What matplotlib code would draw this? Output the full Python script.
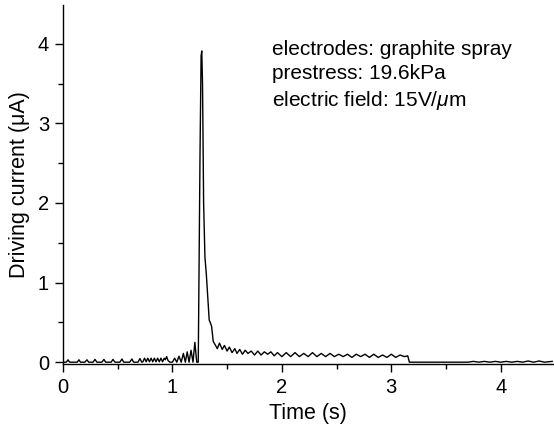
import matplotlib
matplotlib.use('Agg')
import matplotlib.pyplot as plt
from matplotlib.ticker import MultipleLocator

plt.rcParams['font.family'] = ['Liberation Sans', 'DejaVu Sans']
plt.rcParams['mathtext.fontset'] = 'custom'
plt.rcParams['mathtext.rm'] = 'Liberation Sans'
plt.rcParams['mathtext.it'] = 'Liberation Sans:italic'

# driving current trace (time in s, current in uA)
t_pre = [0.00, 0.03, 0.046, 0.06, 0.13, 0.146, 0.16, 0.20, 0.219, 0.235,
         0.275, 0.292, 0.31, 0.355, 0.374, 0.39, 0.44, 0.457, 0.475,
         0.52, 0.539, 0.555, 0.61, 0.630, 0.645, 0.685, 0.703, 0.72,
         0.73, 0.745, 0.76, 0.775, 0.79, 0.805, 0.82, 0.835, 0.85, 0.865,
         0.88, 0.895, 0.91, 0.925, 0.935, 0.947, 0.96, 0.977,
         1.00, 1.02, 1.04, 1.06, 1.08, 1.10, 1.118, 1.135, 1.152, 1.17,
         1.188, 1.205, 1.222]
v_pre = [0.00, 0.00, 0.03, 0.00, 0.00, 0.03, 0.00, 0.00, 0.03, 0.00,
         0.00, 0.035, 0.00, 0.00, 0.035, 0.00, 0.00, 0.035, 0.00,
         0.00, 0.04, 0.00, 0.00, 0.04, 0.00, 0.00, 0.045, 0.00,
         0.005, 0.05, 0.005, 0.05, 0.005, 0.05, 0.005, 0.05, 0.005, 0.05,
         0.005, 0.05, 0.005, 0.05, 0.03, 0.07, 0.02, 0.00,
         0.00, 0.05, 0.00, 0.075, 0.00, 0.11, 0.00, 0.13, 0.00, 0.15,
         0.00, 0.25, 0.00]

t_peak = [1.236, 1.252, 1.262, 1.268, 1.275, 1.285, 1.297, 1.31, 1.336,
          1.345, 1.358, 1.373]
v_peak = [0.00, 2.6, 3.85, 3.91, 3.5, 2.0, 1.32, 1.1, 0.53, 0.50, 0.45, 0.26]

t_tail = [1.39, 1.41, 1.43, 1.455, 1.475, 1.50, 1.52, 1.545, 1.57, 1.59,
          1.615, 1.64, 1.665, 1.69, 1.72, 1.75, 1.78, 1.81, 1.84, 1.87,
          1.90, 1.93, 1.96, 2.00, 2.04, 2.08, 2.12, 2.16, 2.20, 2.24,
          2.28, 2.32, 2.36, 2.40, 2.44, 2.48, 2.52, 2.56, 2.60, 2.64,
          2.68, 2.72, 2.76, 2.80, 2.84, 2.88, 2.92, 2.96, 3.00, 3.04,
          3.08, 3.12, 3.15, 3.165, 3.70, 3.75, 3.80, 3.85, 3.90, 3.95,
          4.00, 4.05, 4.10, 4.15, 4.20, 4.25, 4.30, 4.35, 4.40, 4.47]
v_tail = [0.22, 0.17, 0.24, 0.16, 0.21, 0.14, 0.19, 0.12, 0.17, 0.11,
          0.16, 0.10, 0.15, 0.11, 0.14, 0.09, 0.14, 0.09, 0.13, 0.10,
          0.13, 0.08, 0.12, 0.07, 0.12, 0.07, 0.12, 0.07, 0.11, 0.07,
          0.12, 0.07, 0.11, 0.07, 0.11, 0.07, 0.10, 0.07, 0.10, 0.06,
          0.10, 0.07, 0.10, 0.06, 0.10, 0.06, 0.09, 0.06, 0.10, 0.06,
          0.09, 0.07, 0.08, 0.00, 0.00, 0.01, 0.00, 0.01, 0.00, 0.01,
          0.00, 0.01, 0.00, 0.01, 0.00, 0.015, 0.00, 0.015, 0.00, 0.01]

time = t_pre + t_peak + t_tail
current = v_pre + v_peak + v_tail

info = ['electrodes: graphite spray',
        'prestress: 19.6kPa',
        'electric field: 15V/$\\mu$m']

fig = plt.figure(figsize=(5.54, 4.32), dpi=100)
ax = fig.add_axes([0.1137, 0.157, 0.884, 0.831])

ax.plot(time, current, color='black', lw=1.0)

ax.set_xlim(0, 4.475)
ax.set_ylim(-0.025, 4.485)
ax.xaxis.set_major_locator(MultipleLocator(1))
ax.xaxis.set_minor_locator(MultipleLocator(0.5))
ax.yaxis.set_major_locator(MultipleLocator(1))
ax.yaxis.set_minor_locator(MultipleLocator(0.5))
ax.tick_params(which='major', direction='out', length=6, width=1,
               labelsize=14.5, pad=4)
ax.tick_params(which='minor', direction='out', length=3.5, width=1)

for s in ['top', 'right']:
    ax.spines[s].set_visible(False)
for s in ['left', 'bottom']:
    ax.spines[s].set_linewidth(1)

ax.set_xlabel('Time (s)', fontsize=15.5, labelpad=4)
ax.set_ylabel('Driving current (μA)', fontsize=15.5, labelpad=6)

ax.text(0.427, 0.902, '\n'.join(info), transform=ax.transAxes,
        fontsize=15, va='top', ha='left', linespacing=1.32)

plt.savefig('out.png', dpi=100)
plt.close()
